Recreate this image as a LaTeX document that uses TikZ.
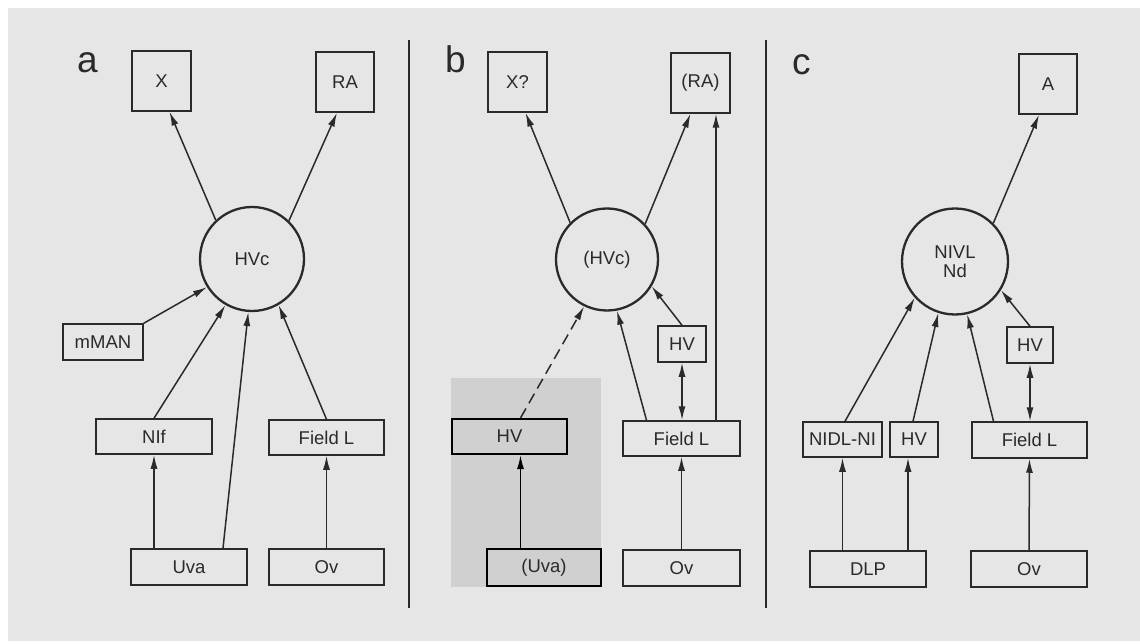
\documentclass[tikz,border=0pt]{standalone}
\usepackage{fontspec}
\setmainfont{Liberation Sans}
\usetikzlibrary{arrows.meta,calc}
\definecolor{bg}{HTML}{E6E6E6}
\definecolor{ink}{HTML}{2A2A2A}
\definecolor{stipple}{HTML}{D0D0D0}
\tikzset{
  box/.style={draw=ink, line width=1.5pt, inner sep=0pt, font=\fontsize{18.5}{20}\selectfont, text=ink},
  darkbox/.style={box, line width=2pt, draw=black},
  hub/.style={circle, draw=ink, line width=2.3pt, inner sep=0pt, minimum size=104pt, font=\fontsize{18.5}{19}\selectfont, text=ink, align=center},
  arr/.style={draw=ink, line width=1.5pt, -{Latex[length=14pt,width=7pt]}},
  darr/.style={draw=ink, line width=1.5pt, {Latex[length=14pt,width=7pt]}-{Latex[length=14pt,width=7pt]}},
  dsh/.style={arr, dash pattern=on 11pt off 6pt},
  panellabel/.style={font=\fontsize{37}{40}\selectfont, text=ink, inner sep=0pt, anchor=base west},
  divider/.style={draw=ink, line width=1.5pt}
}
\begin{document}
\begin{tikzpicture}[x=1pt,y=-1pt]
\useasboundingbox (0,0) rectangle (1140,644);
\fill[white] (0,0) rectangle (1140,644);
\fill[bg] (8,8) rectangle (1140,641);

% ---------- panel a ----------
\node[panellabel] (la) at (77,73) {a};
\node[box, minimum width=59pt, minimum height=60pt] (ax) at (161.5,81) {X};
\node[box, minimum width=58pt, minimum height=60pt] (ara) at (345,82) {RA};
\node[hub] (ahvc) at (252,259) {HVc};
\node[box, minimum width=80pt, minimum height=36pt] (amman) at (103,342) {mMAN};
\node[box, minimum width=116pt, minimum height=35pt] (anif) at (154,436.5) {NIf};
\node[box, minimum width=115pt, minimum height=35pt] (afl) at (326.5,437.5) {Field L};
\node[box, minimum width=116pt, minimum height=36pt] (auva) at (189,567) {Uva};
\node[box, minimum width=115pt, minimum height=36pt] (aov) at (326.5,567) {Ov};

\draw[arr] (ahvc.133) -- ($(ax.south)+(8,0)$);
\draw[arr] (ahvc.46) -- ($(ara.south)+(-8,0)$);
\draw[arr] (amman.north east) -- (ahvc.212);
\draw[arr] (anif.north) -- (ahvc.240);
\draw[arr] ($(auva.north)+(34,0)$) -- (ahvc.266);
\draw[arr] (afl.north) -- (ahvc.300);
\draw[arr] (anif.south |- auva.north) -- (anif.south);
\draw[arr] (aov.north) -- (afl.south);

\draw[divider] (409,40) -- (409,608);

% ---------- panel b ----------
\fill[stipple] (451,378) rectangle (601,587);
\node[panellabel] (lb) at (445,73) {b};
\node[box, minimum width=59pt, minimum height=60pt] (bx) at (517.5,82) {X?};
\node[box, minimum width=59pt, minimum height=60pt] (bra) at (700.5,83) {(RA)};
\node[hub, minimum size=102pt] (bhvc) at (607,259.5) {(HVc)};
\node[box, minimum width=48pt, minimum height=36pt] (bhvs) at (682,344) {HV};
\node[box, minimum width=117pt, minimum height=35pt] (bfl) at (681.5,438.5) {Field L};
\node[box, minimum width=117pt, minimum height=36pt] (bov) at (681.5,568) {Ov};
\node[darkbox, minimum width=115pt, minimum height=35pt] (bhv) at (509.5,436.5) {HV};
\node[darkbox, minimum width=114pt, minimum height=37pt] (buva) at (544,567.5) {(Uva)};

\draw[arr] (bhvc.135) -- ($(bx.south)+(8,0)$);
\draw[arr] (bhvc.43) -- ($(bra.south)+(-10,0)$);
\draw[arr] ($(bfl.north)+(34.5,0)$) -- ($(bra.south)+(15.5,0)$);
\draw[dsh] ($(bhv.north)+(11,0)$) -- (bhvc.244);
\draw[arr] ($(bfl.north)+(-35,0)$) -- (bhvc.281);
\draw[arr] (bhvs.north) -- (bhvc.329);
\draw[darr] (bhvs.south) -- (bhvs.south |- bfl.north);
\draw[arr] (bov.north) -- (bfl.south);
\draw[arr, draw=black] ($(bhv.south |- buva.north)+(11,0)$) -- ($(bhv.south)+(11,0)$);

\draw[divider] (766,40) -- (766,608);

% ---------- panel c ----------
\node[panellabel] (lc) at (792,75) {c};
\node[box, minimum width=58pt, minimum height=60pt] (ca) at (1048,84) {A};
\node[hub, minimum size=106pt] (cn) at (955,261.5) {NIVL\\Nd};
\node[box, minimum width=46pt, minimum height=36pt] (chvs) at (1030,345) {HV};
\node[box, minimum width=79pt, minimum height=35pt] (cnidl) at (842.5,439.5) {NIDL-NI};
\node[box, minimum width=48pt, minimum height=35pt] (chv) at (914,439.5) {HV};
\node[box, minimum width=115pt, minimum height=36pt] (cfl) at (1029.5,440) {Field L};
\node[box, minimum width=116pt, minimum height=36pt] (cdlp) at (868,569) {DLP};
\node[box, minimum width=116pt, minimum height=36pt] (cov) at (1029,569) {Ov};

\draw[arr] (cn.45) -- ($(ca.south)+(-9,0)$);
\draw[arr] ($(cnidl.north)+(2.5,0)$) -- (cn.222);
\draw[arr] ($(chv.north)+(-1,0)$) -- (cn.252);
\draw[arr] ($(cfl.north)+(-36,0)$) -- (cn.283);
\draw[arr] (chvs.north) -- (cn.328);
\draw[darr] (chvs.south) -- (chvs.south |- cfl.north);
\draw[arr] (cnidl.south |- cdlp.north) -- (cnidl.south);
\draw[arr] ($(chv.south |- cdlp.north)+(-6,0)$) -- ($(chv.south)+(-6,0)$);
\draw[arr] (cov.north) -- (cfl.south);
\end{tikzpicture}
\end{document}
